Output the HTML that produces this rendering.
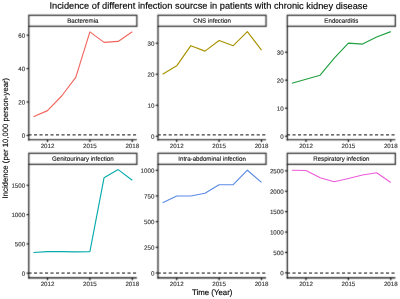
<!DOCTYPE html>
<html><head><meta charset="utf-8"><style>
html,body{margin:0;padding:0;background:#fff;}
body{width:400px;height:299px;overflow:hidden;}
svg{display:block;font-family:"Liberation Sans", sans-serif;}
</style></head><body>
<svg width="400" height="299" viewBox="0 0 400 299">
<defs><filter id="soft" color-interpolation-filters="sRGB" filterUnits="userSpaceOnUse" x="0" y="0" width="400" height="299"><feConvolveMatrix order="3" kernelMatrix="9 42 9 42 196 42 9 42 9" edgeMode="duplicate"/></filter>
<filter id="dsoft" color-interpolation-filters="sRGB" filterUnits="userSpaceOnUse" x="0" y="0" width="400" height="299"><feConvolveMatrix order="3" kernelMatrix="0 0 0 0 1 0 0 0 0" edgeMode="none"/></filter>
<filter id="tsoft" color-interpolation-filters="sRGB" filterUnits="userSpaceOnUse" x="0" y="0" width="400" height="299"><feConvolveMatrix order="3" kernelMatrix="0 0 0 0 1 0 0 0 0" edgeMode="none"/></filter></defs>
<g filter="url(#soft)">
<rect width="400" height="299" fill="#fff"/>
<rect x="28.80" y="15.30" width="108.05" height="11.00" fill="#fff" stroke="#2a2a2a" stroke-width="1.25"/>
<line x1="28.80" y1="26.30" x2="28.80" y2="140.40" stroke="#000000" stroke-width="1.1"/>
<line x1="28.20" y1="139.80" x2="136.85" y2="139.80" stroke="#000000" stroke-width="1.1"/>
<line x1="26.50" y1="135.40" x2="28.80" y2="135.40" stroke="#000" stroke-width="1.1"/>
<line x1="26.50" y1="102.00" x2="28.80" y2="102.00" stroke="#000" stroke-width="1.1"/>
<line x1="26.50" y1="68.60" x2="28.80" y2="68.60" stroke="#000" stroke-width="1.1"/>
<line x1="26.50" y1="35.20" x2="28.80" y2="35.20" stroke="#000" stroke-width="1.1"/>
<line x1="47.51" y1="139.80" x2="47.51" y2="142.10" stroke="#000" stroke-width="1.1"/>
<line x1="89.90" y1="139.80" x2="89.90" y2="142.10" stroke="#000" stroke-width="1.1"/>
<line x1="132.29" y1="139.80" x2="132.29" y2="142.10" stroke="#000" stroke-width="1.1"/>
<rect x="158.00" y="15.30" width="108.05" height="11.00" fill="#fff" stroke="#2a2a2a" stroke-width="1.25"/>
<line x1="158.00" y1="26.30" x2="158.00" y2="140.40" stroke="#000000" stroke-width="1.1"/>
<line x1="157.40" y1="139.80" x2="266.05" y2="139.80" stroke="#000000" stroke-width="1.1"/>
<line x1="155.70" y1="136.30" x2="158.00" y2="136.30" stroke="#000" stroke-width="1.1"/>
<line x1="155.70" y1="105.30" x2="158.00" y2="105.30" stroke="#000" stroke-width="1.1"/>
<line x1="155.70" y1="74.20" x2="158.00" y2="74.20" stroke="#000" stroke-width="1.1"/>
<line x1="155.70" y1="43.20" x2="158.00" y2="43.20" stroke="#000" stroke-width="1.1"/>
<line x1="176.71" y1="139.80" x2="176.71" y2="142.10" stroke="#000" stroke-width="1.1"/>
<line x1="219.10" y1="139.80" x2="219.10" y2="142.10" stroke="#000" stroke-width="1.1"/>
<line x1="261.49" y1="139.80" x2="261.49" y2="142.10" stroke="#000" stroke-width="1.1"/>
<rect x="287.30" y="15.30" width="108.05" height="11.00" fill="#fff" stroke="#2a2a2a" stroke-width="1.25"/>
<line x1="287.30" y1="26.30" x2="287.30" y2="140.40" stroke="#000000" stroke-width="1.1"/>
<line x1="286.70" y1="139.80" x2="395.35" y2="139.80" stroke="#000000" stroke-width="1.1"/>
<line x1="285.00" y1="136.20" x2="287.30" y2="136.20" stroke="#000" stroke-width="1.1"/>
<line x1="285.00" y1="108.20" x2="287.30" y2="108.20" stroke="#000" stroke-width="1.1"/>
<line x1="285.00" y1="80.20" x2="287.30" y2="80.20" stroke="#000" stroke-width="1.1"/>
<line x1="285.00" y1="52.20" x2="287.30" y2="52.20" stroke="#000" stroke-width="1.1"/>
<line x1="306.01" y1="139.80" x2="306.01" y2="142.10" stroke="#000" stroke-width="1.1"/>
<line x1="348.40" y1="139.80" x2="348.40" y2="142.10" stroke="#000" stroke-width="1.1"/>
<line x1="390.79" y1="139.80" x2="390.79" y2="142.10" stroke="#000" stroke-width="1.1"/>
<rect x="28.80" y="153.30" width="108.05" height="11.05" fill="#fff" stroke="#2a2a2a" stroke-width="1.25"/>
<line x1="28.80" y1="164.35" x2="28.80" y2="278.45" stroke="#000000" stroke-width="1.1"/>
<line x1="28.20" y1="277.85" x2="136.85" y2="277.85" stroke="#000000" stroke-width="1.1"/>
<line x1="26.50" y1="273.20" x2="28.80" y2="273.20" stroke="#000" stroke-width="1.1"/>
<line x1="26.50" y1="243.90" x2="28.80" y2="243.90" stroke="#000" stroke-width="1.1"/>
<line x1="26.50" y1="214.60" x2="28.80" y2="214.60" stroke="#000" stroke-width="1.1"/>
<line x1="26.50" y1="185.30" x2="28.80" y2="185.30" stroke="#000" stroke-width="1.1"/>
<line x1="47.51" y1="277.85" x2="47.51" y2="280.15" stroke="#000" stroke-width="1.1"/>
<line x1="89.90" y1="277.85" x2="89.90" y2="280.15" stroke="#000" stroke-width="1.1"/>
<line x1="132.29" y1="277.85" x2="132.29" y2="280.15" stroke="#000" stroke-width="1.1"/>
<rect x="158.00" y="153.30" width="108.05" height="11.05" fill="#fff" stroke="#2a2a2a" stroke-width="1.25"/>
<line x1="158.00" y1="164.35" x2="158.00" y2="278.45" stroke="#000000" stroke-width="1.1"/>
<line x1="157.40" y1="277.85" x2="266.05" y2="277.85" stroke="#000000" stroke-width="1.1"/>
<line x1="155.70" y1="273.00" x2="158.00" y2="273.00" stroke="#000" stroke-width="1.1"/>
<line x1="155.70" y1="247.30" x2="158.00" y2="247.30" stroke="#000" stroke-width="1.1"/>
<line x1="155.70" y1="221.65" x2="158.00" y2="221.65" stroke="#000" stroke-width="1.1"/>
<line x1="155.70" y1="195.95" x2="158.00" y2="195.95" stroke="#000" stroke-width="1.1"/>
<line x1="155.70" y1="170.30" x2="158.00" y2="170.30" stroke="#000" stroke-width="1.1"/>
<line x1="176.71" y1="277.85" x2="176.71" y2="280.15" stroke="#000" stroke-width="1.1"/>
<line x1="219.10" y1="277.85" x2="219.10" y2="280.15" stroke="#000" stroke-width="1.1"/>
<line x1="261.49" y1="277.85" x2="261.49" y2="280.15" stroke="#000" stroke-width="1.1"/>
<rect x="287.30" y="153.30" width="108.05" height="11.05" fill="#fff" stroke="#2a2a2a" stroke-width="1.25"/>
<line x1="287.30" y1="164.35" x2="287.30" y2="278.45" stroke="#000000" stroke-width="1.1"/>
<line x1="286.70" y1="277.85" x2="395.35" y2="277.85" stroke="#000000" stroke-width="1.1"/>
<line x1="285.00" y1="272.85" x2="287.30" y2="272.85" stroke="#000" stroke-width="1.1"/>
<line x1="285.00" y1="252.45" x2="287.30" y2="252.45" stroke="#000" stroke-width="1.1"/>
<line x1="285.00" y1="232.05" x2="287.30" y2="232.05" stroke="#000" stroke-width="1.1"/>
<line x1="285.00" y1="211.65" x2="287.30" y2="211.65" stroke="#000" stroke-width="1.1"/>
<line x1="285.00" y1="191.25" x2="287.30" y2="191.25" stroke="#000" stroke-width="1.1"/>
<line x1="285.00" y1="170.85" x2="287.30" y2="170.85" stroke="#000" stroke-width="1.1"/>
<line x1="306.01" y1="277.85" x2="306.01" y2="280.15" stroke="#000" stroke-width="1.1"/>
<line x1="348.40" y1="277.85" x2="348.40" y2="280.15" stroke="#000" stroke-width="1.1"/>
<line x1="390.79" y1="277.85" x2="390.79" y2="280.15" stroke="#000" stroke-width="1.1"/>
</g>
<g filter="url(#dsoft)">
<line x1="28.80" y1="134.90" x2="136.85" y2="134.90" stroke="#111" stroke-width="1.0" stroke-dasharray="3.1 2.4" stroke-dashoffset="0.3"/>
<polyline points="33.38,116.70 47.51,110.60 61.64,96.00 75.77,77.40 89.90,31.90 104.03,42.40 118.16,41.40 132.29,31.80" fill="none" stroke="#F0665E" stroke-width="1.15" stroke-linejoin="round"/>
<line x1="158.00" y1="134.90" x2="266.05" y2="134.90" stroke="#111" stroke-width="1.0" stroke-dasharray="3.1 2.4" stroke-dashoffset="0.3"/>
<polyline points="162.58,74.20 176.71,65.80 190.84,45.70 204.97,51.10 219.10,40.50 233.23,45.70 247.36,31.60 261.49,50.10" fill="none" stroke="#A89200" stroke-width="1.15" stroke-linejoin="round"/>
<line x1="287.30" y1="134.90" x2="395.35" y2="134.90" stroke="#111" stroke-width="1.0" stroke-dasharray="3.1 2.4" stroke-dashoffset="0.3"/>
<polyline points="291.88,83.20 306.01,79.20 320.14,75.20 334.27,58.10 348.40,43.10 362.53,44.10 376.66,37.00 390.79,31.60" fill="none" stroke="#20A040" stroke-width="1.15" stroke-linejoin="round"/>
<line x1="28.80" y1="273.05" x2="136.85" y2="273.05" stroke="#111" stroke-width="1.0" stroke-dasharray="3.1 2.4" stroke-dashoffset="0.3"/>
<polyline points="33.38,252.50 47.51,251.60 61.64,251.60 75.77,251.90 89.90,251.60 104.03,177.80 118.16,169.60 132.29,180.20" fill="none" stroke="#08AAAC" stroke-width="1.15" stroke-linejoin="round"/>
<line x1="158.00" y1="273.05" x2="266.05" y2="273.05" stroke="#111" stroke-width="1.0" stroke-dasharray="3.1 2.4" stroke-dashoffset="0.3"/>
<polyline points="162.58,202.70 176.71,196.00 190.84,196.00 204.97,193.20 219.10,184.70 233.23,184.70 247.36,170.20 261.49,182.40" fill="none" stroke="#5A8AE4" stroke-width="1.15" stroke-linejoin="round"/>
<line x1="287.30" y1="273.05" x2="395.35" y2="273.05" stroke="#111" stroke-width="1.0" stroke-dasharray="3.1 2.4" stroke-dashoffset="0.3"/>
<polyline points="291.88,170.20 306.01,170.50 320.14,177.80 334.27,181.80 348.40,178.50 362.53,175.00 376.66,172.80 390.79,182.40" fill="none" stroke="#EC5CDA" stroke-width="1.15" stroke-linejoin="round"/>
</g>
<g filter="url(#tsoft)">
<text transform="translate(208.55,8.80) rotate(0.05)" font-size="9.27" fill="#000" stroke="#000" stroke-width="0.15" text-anchor="middle">Incidence of different infection sourcse in patients with chronic kidney disease</text>
<text transform="translate(212.25,295.00) rotate(0.05)" font-size="7.83" fill="#000" stroke="#000" stroke-width="0.15" text-anchor="middle">Time (Year)</text>
<text transform="translate(7.90,138.10) rotate(-89.95)" font-size="7.72" fill="#000" stroke="#000" stroke-width="0.15" text-anchor="middle">Incidence (per 10,000 person-year)</text>
<text transform="translate(82.83,22.80) rotate(0.05)" font-size="6.18" fill="#1A1A1A" stroke="#1A1A1A" stroke-width="0.15" text-anchor="middle">Bacteremia</text>
<text transform="translate(25.15,137.85) rotate(0.05)" font-size="6.18" fill="#3A3A3A" stroke="#3A3A3A" stroke-width="0.15" text-anchor="end">0</text>
<text transform="translate(25.15,104.45) rotate(0.05)" font-size="6.18" fill="#3A3A3A" stroke="#3A3A3A" stroke-width="0.15" text-anchor="end">20</text>
<text transform="translate(25.15,71.05) rotate(0.05)" font-size="6.18" fill="#3A3A3A" stroke="#3A3A3A" stroke-width="0.15" text-anchor="end">40</text>
<text transform="translate(25.15,37.65) rotate(0.05)" font-size="6.18" fill="#3A3A3A" stroke="#3A3A3A" stroke-width="0.15" text-anchor="end">60</text>
<text transform="translate(47.51,148.00) rotate(0.05)" font-size="6.18" fill="#3A3A3A" stroke="#3A3A3A" stroke-width="0.15" text-anchor="middle">2012</text>
<text transform="translate(89.90,148.00) rotate(0.05)" font-size="6.18" fill="#3A3A3A" stroke="#3A3A3A" stroke-width="0.15" text-anchor="middle">2015</text>
<text transform="translate(132.29,148.00) rotate(0.05)" font-size="6.18" fill="#3A3A3A" stroke="#3A3A3A" stroke-width="0.15" text-anchor="middle">2018</text>
<text transform="translate(212.03,22.80) rotate(0.05)" font-size="6.18" fill="#1A1A1A" stroke="#1A1A1A" stroke-width="0.15" text-anchor="middle">CNS infection</text>
<text transform="translate(154.35,138.75) rotate(0.05)" font-size="6.18" fill="#3A3A3A" stroke="#3A3A3A" stroke-width="0.15" text-anchor="end">0</text>
<text transform="translate(154.35,107.75) rotate(0.05)" font-size="6.18" fill="#3A3A3A" stroke="#3A3A3A" stroke-width="0.15" text-anchor="end">10</text>
<text transform="translate(154.35,76.65) rotate(0.05)" font-size="6.18" fill="#3A3A3A" stroke="#3A3A3A" stroke-width="0.15" text-anchor="end">20</text>
<text transform="translate(154.35,45.65) rotate(0.05)" font-size="6.18" fill="#3A3A3A" stroke="#3A3A3A" stroke-width="0.15" text-anchor="end">30</text>
<text transform="translate(176.71,148.00) rotate(0.05)" font-size="6.18" fill="#3A3A3A" stroke="#3A3A3A" stroke-width="0.15" text-anchor="middle">2012</text>
<text transform="translate(219.10,148.00) rotate(0.05)" font-size="6.18" fill="#3A3A3A" stroke="#3A3A3A" stroke-width="0.15" text-anchor="middle">2015</text>
<text transform="translate(261.49,148.00) rotate(0.05)" font-size="6.18" fill="#3A3A3A" stroke="#3A3A3A" stroke-width="0.15" text-anchor="middle">2018</text>
<text transform="translate(341.32,22.80) rotate(0.05)" font-size="6.18" fill="#1A1A1A" stroke="#1A1A1A" stroke-width="0.15" text-anchor="middle">Endocarditis</text>
<text transform="translate(283.65,138.65) rotate(0.05)" font-size="6.18" fill="#3A3A3A" stroke="#3A3A3A" stroke-width="0.15" text-anchor="end">0</text>
<text transform="translate(283.65,110.65) rotate(0.05)" font-size="6.18" fill="#3A3A3A" stroke="#3A3A3A" stroke-width="0.15" text-anchor="end">10</text>
<text transform="translate(283.65,82.65) rotate(0.05)" font-size="6.18" fill="#3A3A3A" stroke="#3A3A3A" stroke-width="0.15" text-anchor="end">20</text>
<text transform="translate(283.65,54.65) rotate(0.05)" font-size="6.18" fill="#3A3A3A" stroke="#3A3A3A" stroke-width="0.15" text-anchor="end">30</text>
<text transform="translate(306.01,148.00) rotate(0.05)" font-size="6.18" fill="#3A3A3A" stroke="#3A3A3A" stroke-width="0.15" text-anchor="middle">2012</text>
<text transform="translate(348.40,148.00) rotate(0.05)" font-size="6.18" fill="#3A3A3A" stroke="#3A3A3A" stroke-width="0.15" text-anchor="middle">2015</text>
<text transform="translate(390.79,148.00) rotate(0.05)" font-size="6.18" fill="#3A3A3A" stroke="#3A3A3A" stroke-width="0.15" text-anchor="middle">2018</text>
<text transform="translate(82.83,160.85) rotate(0.05)" font-size="6.18" fill="#1A1A1A" stroke="#1A1A1A" stroke-width="0.15" text-anchor="middle">Genitourinary infection</text>
<text transform="translate(25.15,275.65) rotate(0.05)" font-size="6.18" fill="#3A3A3A" stroke="#3A3A3A" stroke-width="0.15" text-anchor="end">0</text>
<text transform="translate(25.15,246.35) rotate(0.05)" font-size="6.18" fill="#3A3A3A" stroke="#3A3A3A" stroke-width="0.15" text-anchor="end">500</text>
<text transform="translate(25.15,217.05) rotate(0.05)" font-size="6.18" fill="#3A3A3A" stroke="#3A3A3A" stroke-width="0.15" text-anchor="end">1000</text>
<text transform="translate(25.15,187.75) rotate(0.05)" font-size="6.18" fill="#3A3A3A" stroke="#3A3A3A" stroke-width="0.15" text-anchor="end">1500</text>
<text transform="translate(47.51,286.05) rotate(0.05)" font-size="6.18" fill="#3A3A3A" stroke="#3A3A3A" stroke-width="0.15" text-anchor="middle">2012</text>
<text transform="translate(89.90,286.05) rotate(0.05)" font-size="6.18" fill="#3A3A3A" stroke="#3A3A3A" stroke-width="0.15" text-anchor="middle">2015</text>
<text transform="translate(132.29,286.05) rotate(0.05)" font-size="6.18" fill="#3A3A3A" stroke="#3A3A3A" stroke-width="0.15" text-anchor="middle">2018</text>
<text transform="translate(212.03,160.85) rotate(0.05)" font-size="6.18" fill="#1A1A1A" stroke="#1A1A1A" stroke-width="0.15" text-anchor="middle">Intra-abdominal infection</text>
<text transform="translate(154.35,275.45) rotate(0.05)" font-size="6.18" fill="#3A3A3A" stroke="#3A3A3A" stroke-width="0.15" text-anchor="end">0</text>
<text transform="translate(154.35,249.75) rotate(0.05)" font-size="6.18" fill="#3A3A3A" stroke="#3A3A3A" stroke-width="0.15" text-anchor="end">250</text>
<text transform="translate(154.35,224.10) rotate(0.05)" font-size="6.18" fill="#3A3A3A" stroke="#3A3A3A" stroke-width="0.15" text-anchor="end">500</text>
<text transform="translate(154.35,198.40) rotate(0.05)" font-size="6.18" fill="#3A3A3A" stroke="#3A3A3A" stroke-width="0.15" text-anchor="end">750</text>
<text transform="translate(154.35,172.75) rotate(0.05)" font-size="6.18" fill="#3A3A3A" stroke="#3A3A3A" stroke-width="0.15" text-anchor="end">1000</text>
<text transform="translate(176.71,286.05) rotate(0.05)" font-size="6.18" fill="#3A3A3A" stroke="#3A3A3A" stroke-width="0.15" text-anchor="middle">2012</text>
<text transform="translate(219.10,286.05) rotate(0.05)" font-size="6.18" fill="#3A3A3A" stroke="#3A3A3A" stroke-width="0.15" text-anchor="middle">2015</text>
<text transform="translate(261.49,286.05) rotate(0.05)" font-size="6.18" fill="#3A3A3A" stroke="#3A3A3A" stroke-width="0.15" text-anchor="middle">2018</text>
<text transform="translate(341.32,160.85) rotate(0.05)" font-size="6.18" fill="#1A1A1A" stroke="#1A1A1A" stroke-width="0.15" text-anchor="middle">Respiratory infection</text>
<text transform="translate(283.65,275.30) rotate(0.05)" font-size="6.18" fill="#3A3A3A" stroke="#3A3A3A" stroke-width="0.15" text-anchor="end">0</text>
<text transform="translate(283.65,254.90) rotate(0.05)" font-size="6.18" fill="#3A3A3A" stroke="#3A3A3A" stroke-width="0.15" text-anchor="end">500</text>
<text transform="translate(283.65,234.50) rotate(0.05)" font-size="6.18" fill="#3A3A3A" stroke="#3A3A3A" stroke-width="0.15" text-anchor="end">1000</text>
<text transform="translate(283.65,214.10) rotate(0.05)" font-size="6.18" fill="#3A3A3A" stroke="#3A3A3A" stroke-width="0.15" text-anchor="end">1500</text>
<text transform="translate(283.65,193.70) rotate(0.05)" font-size="6.18" fill="#3A3A3A" stroke="#3A3A3A" stroke-width="0.15" text-anchor="end">2000</text>
<text transform="translate(283.65,173.30) rotate(0.05)" font-size="6.18" fill="#3A3A3A" stroke="#3A3A3A" stroke-width="0.15" text-anchor="end">2500</text>
<text transform="translate(306.01,286.05) rotate(0.05)" font-size="6.18" fill="#3A3A3A" stroke="#3A3A3A" stroke-width="0.15" text-anchor="middle">2012</text>
<text transform="translate(348.40,286.05) rotate(0.05)" font-size="6.18" fill="#3A3A3A" stroke="#3A3A3A" stroke-width="0.15" text-anchor="middle">2015</text>
<text transform="translate(390.79,286.05) rotate(0.05)" font-size="6.18" fill="#3A3A3A" stroke="#3A3A3A" stroke-width="0.15" text-anchor="middle">2018</text>
</g>
</svg>
</body></html>
